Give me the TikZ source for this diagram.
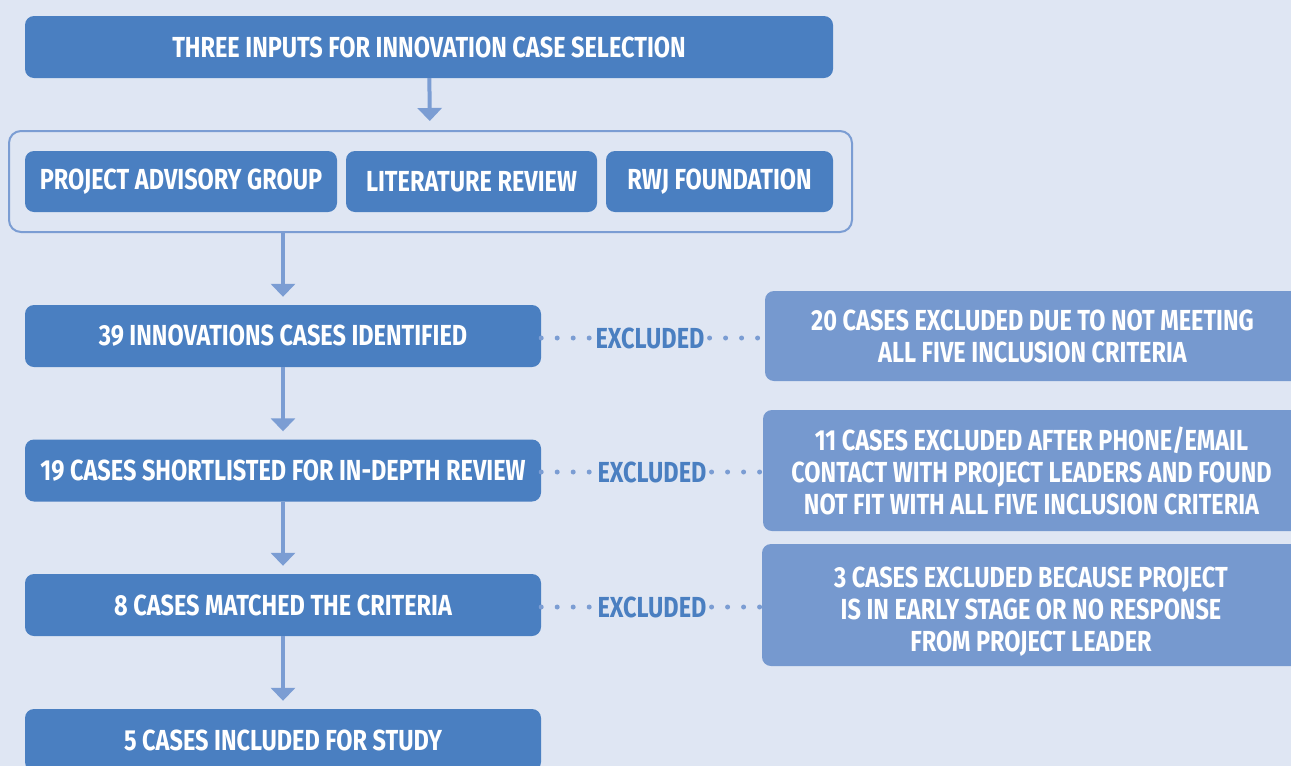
\documentclass[tikz,border=0pt]{standalone}
\usepackage{fontspec}
\setmainfont{Fira Sans}[FakeStretch=0.81]
\usetikzlibrary{arrows.meta}
\definecolor{bgblue}{HTML}{DFE6F3}
\definecolor{boxblue}{HTML}{4A7FC1}
\definecolor{lightbox}{HTML}{7699CF}
\definecolor{lineblue}{HTML}{7B9DD3}
\tikzset{
  mainbox/.style={fill=boxblue, rounded corners=9pt, inner sep=0pt, text=white,
    font=\fontsize{29}{32}\selectfont\bfseries, minimum height=62pt},
  exbox/.style={fill=lightbox, rounded corners=9pt, inner sep=0pt, text=white, align=center,
    font=\fontsize{29}{32}\selectfont\bfseries},
  flow/.style={draw=lineblue, line width=4pt, -{Triangle[width=24pt,length=13pt]}, shorten >=8pt},
  dots/.style={draw=lineblue, line width=5pt, line cap=round, dash pattern=on 0pt off 16pt},
  exlabel/.style={text=boxblue, inner sep=5pt, font=\fontsize{29}{32}\selectfont\bfseries}
}
\begin{document}
\begin{tikzpicture}[x=1pt,y=-1pt]
  \fill[bgblue] (0,0) rectangle (1291,766);
  \useasboundingbox (0,0) rectangle (1291,766);

  \node[mainbox, minimum width=808pt] (top) at (429,47) {THREE INPUTS FOR INNOVATION CASE SELECTION};
  \node[draw=lineblue, line width=2pt, rounded corners=12pt, minimum width=843pt, minimum height=101pt] (inputs) at (430.5,181.5) {};
  \node[mainbox, minimum width=312pt, minimum height=61pt] (pag) at (181,181.5) {PROJECT ADVISORY GROUP};
  \node[mainbox, minimum width=251pt, minimum height=61pt] (lit) at (471.5,181.5) {LITERATURE REVIEW};
  \node[mainbox, minimum width=227pt, minimum height=61pt] (rwj) at (719.5,181.5) {RWJ FOUNDATION};

  \node[mainbox, minimum width=516pt] (b39) at (283,336) {39 INNOVATIONS CASES IDENTIFIED};
  \node[mainbox, minimum width=516pt] (b19) at (283,470.5) {19 CASES SHORTLISTED FOR IN-DEPTH REVIEW};
  \node[mainbox, minimum width=516pt] (b8) at (283,605) {8 CASES MATCHED THE CRITERIA};
  \node[mainbox, minimum width=516pt] (b5) at (283,740) {5 CASES INCLUDED FOR STUDY};

  \node[exbox, minimum width=535pt, minimum height=90pt] (exA) at (1032.5,336)
    {20 CASES EXCLUDED DUE TO NOT MEETING\\ALL FIVE INCLUSION CRITERIA};
  \node[exbox, minimum width=537pt, minimum height=121pt] (exB) at (1031.5,470.5)
    {11 CASES EXCLUDED AFTER PHONE/EMAIL\\CONTACT WITH PROJECT LEADERS AND FOUND\\NOT FIT WITH ALL FIVE INCLUSION CRITERIA};
  \node[exbox, minimum width=538pt, minimum height=122pt, text height=93pt, text depth=0pt] (exC) at (1031,605)
    {3 CASES EXCLUDED BECAUSE PROJECT\\IS IN EARLY STAGE OR NO RESPONSE\\FROM PROJECT LEADER};

  \node[exlabel] (xA) at (650,338) {EXCLUDED};
  \node[exlabel] (xB) at (652,472) {EXCLUDED};
  \node[exlabel] (xC) at (652,607) {EXCLUDED};

  \draw[flow, shorten >=9pt] (top) -- (inputs);
  \draw[flow] (inputs.south -| b39) -- (b39);
  \draw[flow] (b39) -- (b19);
  \draw[flow] (b19) -- (b8);
  \draw[flow] (b8) -- (b5);

  \draw[dots] (b39.east |- xA) -- (xA.west);
  \draw[dots] (xA.east) -- (exA.west |- xA);
  \draw[dots] (b19.east |- xB) -- (xB.west);
  \draw[dots] (xB.east) -- (exB.west |- xB);
  \draw[dots] (b8.east |- xC) -- (xC.west);
  \draw[dots] (xC.east) -- (exC.west |- xC);
\end{tikzpicture}
\end{document}
